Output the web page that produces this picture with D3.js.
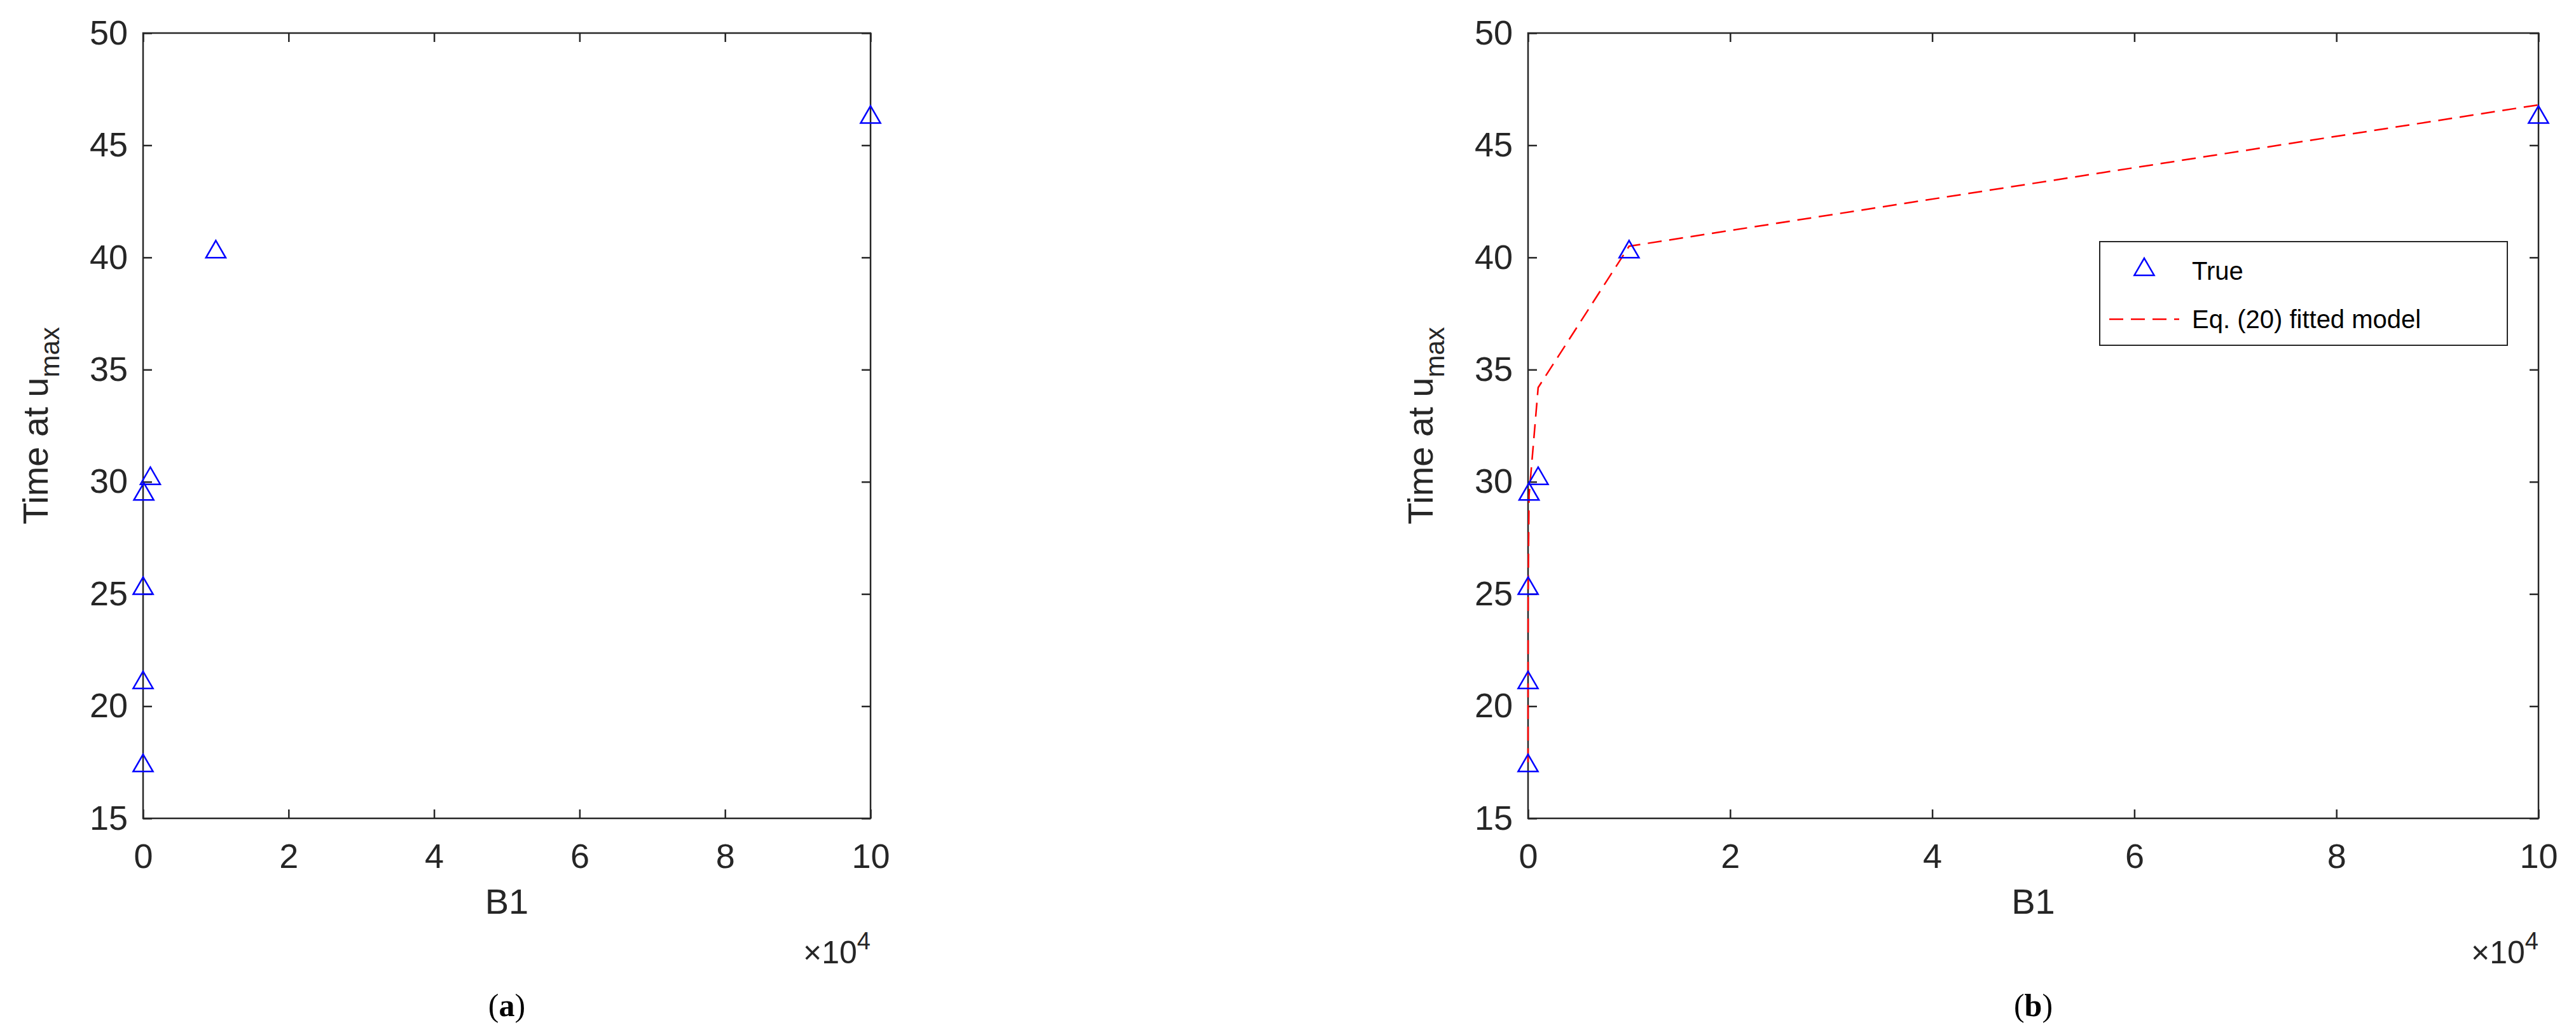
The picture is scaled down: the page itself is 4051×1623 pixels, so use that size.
<!DOCTYPE html><html><head><meta charset="utf-8"><script src="https://cdn.jsdelivr.net/npm/d3@7"></script>
<style>body{margin:0;background:#fff}</style></head><body><svg id="c" width="4051" height="1623"></svg>
<script>
const b1=[0.1,1,10,100,1000,10000,100000];
const trueVals=[17.4,21.1,25.3,29.5,30.2,40.3,46.3];
const fitVals=[17.5,21.0,25.2,29.4,34.2,40.5,46.8];
const xTicks=[0,2,4,6,8,10];
const yTicks=[15,20,25,30,35,40,45,50];
const svg=d3.select("#c");
const ink="#262626";
function panel(L,R,T,B,withFit,cap){
  const x=d3.scaleLinear().domain([0,100000]).range([L,R]);
  const y=d3.scaleLinear().domain([15,50]).range([B,T]);
  const g=svg.append("g");
  g.append("rect").attr("x",L).attr("y",T).attr("width",R-L).attr("height",B-T).attr("fill","none").attr("stroke",ink).attr("stroke-width",2.5);
  g.append("g").attr("transform",`translate(0,${B})`).call(d3.axisBottom(x).tickValues(xTicks.map(v=>v*1e4)).tickFormat((d,i)=>xTicks[i]).tickSizeInner(-14).tickSizeOuter(0).tickPadding(40));
  g.append("g").attr("transform",`translate(${L},0)`).call(d3.axisLeft(y).tickValues(yTicks).tickSizeInner(-14).tickSizeOuter(0).tickPadding(24));
  g.append("g").attr("transform",`translate(0,${T})`).call(d3.axisTop(x).tickValues(xTicks.map(v=>v*1e4)).tickFormat("").tickSizeInner(-14).tickSizeOuter(0));
  g.append("g").attr("transform",`translate(${R},0)`).call(d3.axisRight(y).tickValues(yTicks).tickFormat("").tickSizeInner(-14).tickSizeOuter(0));
  g.selectAll(".domain").remove();
  g.selectAll(".tick line").attr("stroke",ink).attr("stroke-width",2.5);
  g.selectAll(".tick text").attr("fill",ink).attr("font-family","Liberation Sans, Arial").attr("font-size",54);
  const cx=(L+R)/2;
  g.append("text").attr("x",cx).attr("y",B+150).attr("text-anchor","middle").attr("font-family","Liberation Sans").attr("font-size",56).attr("fill",ink).text("B1");
  const t=g.append("text").attr("x",R).attr("y",B+228).attr("text-anchor","end").attr("font-family","Liberation Sans").attr("font-size",50).attr("fill",ink);
  t.append("tspan").text("×10");t.append("tspan").attr("dy",-22).attr("font-size",38).text("4");
  const yl=g.append("text").attr("transform",`translate(${L-150},${(T+B)/2}) rotate(-90)`).attr("text-anchor","middle").attr("font-family","Liberation Sans").attr("font-size",56).attr("fill",ink);
  yl.append("tspan").text("Time at u");yl.append("tspan").attr("dy",18).attr("font-size",42).text("max");
  if(withFit){
    g.append("path").datum(b1.map((v,i)=>[v,fitVals[i]])).attr("d",d3.line().x(d=>x(d[0])).y(d=>y(d[1]))).attr("fill","none").attr("stroke","#ff0000").attr("stroke-width",2.5).attr("stroke-dasharray","22,12");
  }
  const tri=d3.symbol().type(d3.symbolTriangle).size(420);
  g.selectAll(".m").data(b1).join("path").attr("transform",(d,i)=>`translate(${x(d)},${y(trueVals[i])+2})`).attr("d",tri).attr("fill","none").attr("stroke","#0000ff").attr("stroke-width",2.5);
  g.append("text").attr("x",cx).attr("y",1598).attr("text-anchor","middle").attr("font-family","Liberation Serif").attr("font-size",50).attr("fill","#000").html(`(<tspan font-weight="bold">${cap}</tspan>)`);
  return {g,x,y};
}
panel(225,1369,52,1287,false,"a");
const p=panel(2403,3992,52,1287,true,"b");
const lg=p.g.append("g");
const LX=3302,LY=380,LW=641,LH=163;
lg.append("rect").attr("x",LX).attr("y",LY).attr("width",LW).attr("height",LH).attr("fill","#fff").attr("stroke",ink).attr("stroke-width",2);
lg.append("path").attr("transform",`translate(${LX+70},${LY+44})`).attr("d",d3.symbol().type(d3.symbolTriangle).size(420)()).attr("fill","none").attr("stroke","#0000ff").attr("stroke-width",2.5);
lg.append("line").attr("x1",LX+15).attr("x2",LX+125).attr("y1",LY+122).attr("y2",LY+122).attr("stroke","#ff0000").attr("stroke-width",2.5).attr("stroke-dasharray","22,12");
lg.append("text").attr("x",LX+145).attr("y",LY+60).attr("font-family","Liberation Sans").attr("font-size",40).attr("fill","#000").text("True");
lg.append("text").attr("x",LX+145).attr("y",LY+136).attr("font-family","Liberation Sans").attr("font-size",40).attr("fill","#000").text("Eq. (20) fitted model");
</script></body></html>
